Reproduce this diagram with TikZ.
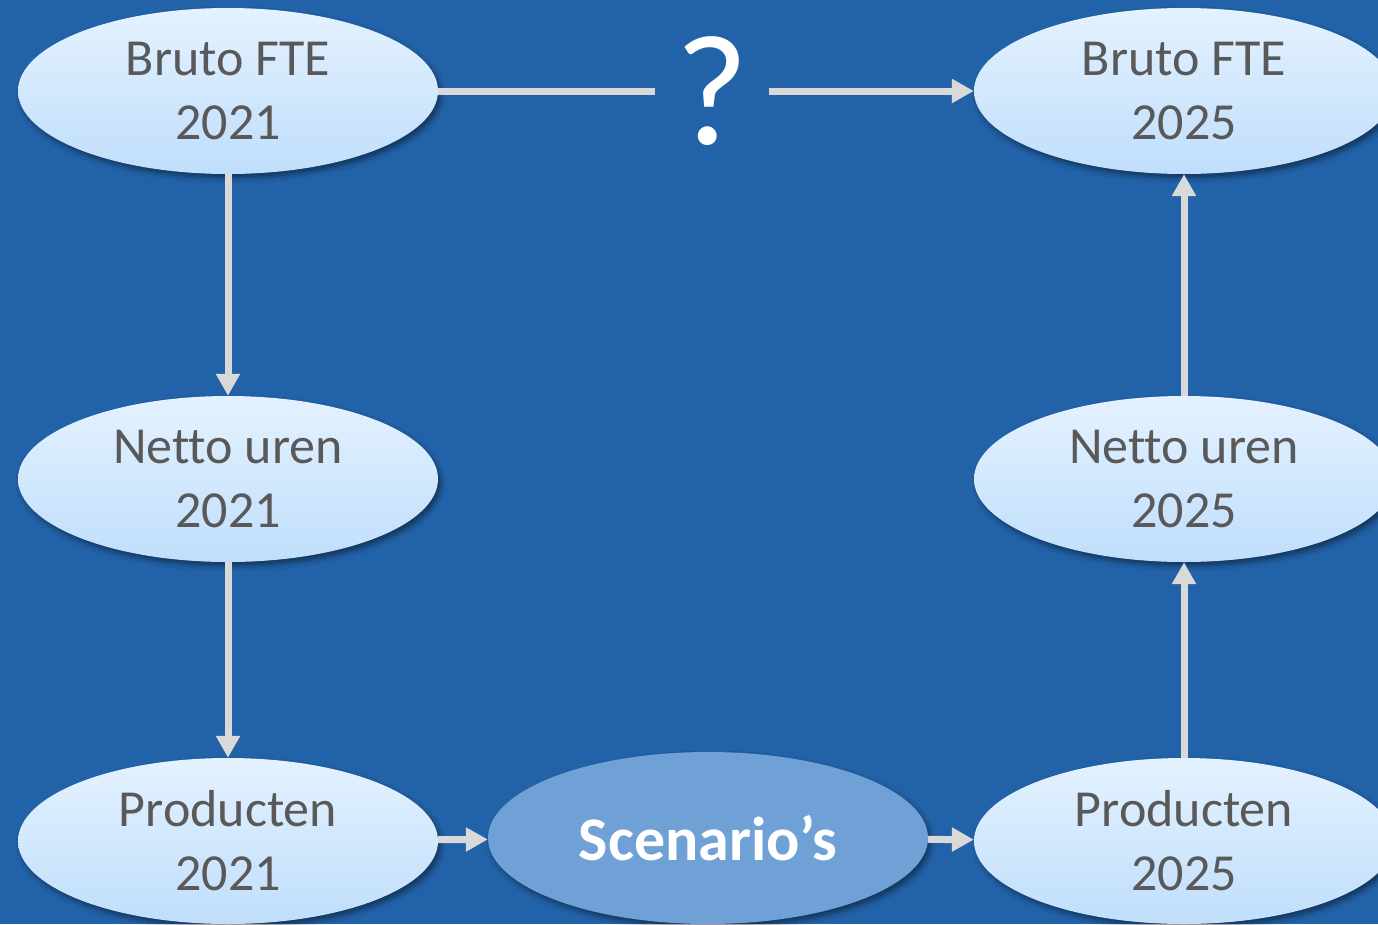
\documentclass[tikz,border=0pt]{standalone}
\usepackage{fontspec}
\setmainfont[Ligatures=NoCommon]{Carlito}
\usetikzlibrary{shapes.geometric,arrows.meta,shadows.blur}
\definecolor{bgblue}{RGB}{34,98,168}
\definecolor{ovaltop}{RGB}{228,242,255}
\definecolor{ovalbot}{RGB}{192,222,251}
\definecolor{scenfill}{RGB}{112,161,214}
\definecolor{txtgray}{RGB}{89,89,89}
\definecolor{arrowgray}{RGB}{217,217,217}
\begin{document}
\begin{tikzpicture}[x=1pt,y=-1pt,
  oval/.style={ellipse, minimum width=420pt, minimum height=166pt, inner sep=0pt,
    top color=ovaltop, bottom color=ovalbot, text=txtgray, align=center,
    font=\fontsize{52}{64}\selectfont,
    blur shadow={shadow xshift=3pt, shadow yshift=-4pt, shadow blur radius=5pt, shadow opacity=45}},
  scenbox/.style={ellipse, minimum width=440pt, minimum height=172pt, inner sep=0pt,
    fill=scenfill, text=white, font=\fontsize{62}{70}\selectfont\bfseries,
    blur shadow={shadow xshift=3pt, shadow yshift=-4pt, shadow blur radius=5pt, shadow opacity=45}},
  qmark/.style={minimum width=114pt, inner sep=0pt, text=white,
    font=\fontsize{158}{160}\selectfont},
  link/.style={draw=arrowgray, line width=7pt},
  conn/.style={link, -{Triangle[width=23pt,length=22pt]}}
]
\useasboundingbox (0,0) rectangle (1378,924);
\clip (0,0) rectangle (1378,924);
\fill[bgblue] (0,0) rectangle (1378,924);

% ovals of the 2021 column
\node[oval] (b21) at (228,91)  {Bruto FTE\\2021};
\node[oval] (n21) at (228,479) {Netto uren\\2021};
\node[oval] (p21) at (228,841) {Producten\\2021};

% ovals of the 2025 column
\node[oval] (b25) at (1184,91)  {Bruto FTE\\2025};
\node[oval] (n25) at (1184,479) {Netto uren\\2025};
\node[oval] (p25) at (1184,841) {Producten\\2025};

% scenario step in between
\node[scenbox] (sc) at (708,838) {Scenario’s};

% unknown direct route
\node[qmark] (q) at (712,91) {\raisebox{-5pt}{?}};

% connectors
\draw[conn] (b21) -- (n21);
\draw[conn] (n21) -- (p21);
\draw[conn] (p21) -- (sc);
\draw[conn] (sc) -- (p25);
\draw[conn] (p25) -- (n25);
\draw[conn] (n25) -- (b25);
\draw[link] (b21) -- (q);
\draw[conn] (q) -- (b25);
\end{tikzpicture}
\end{document}
